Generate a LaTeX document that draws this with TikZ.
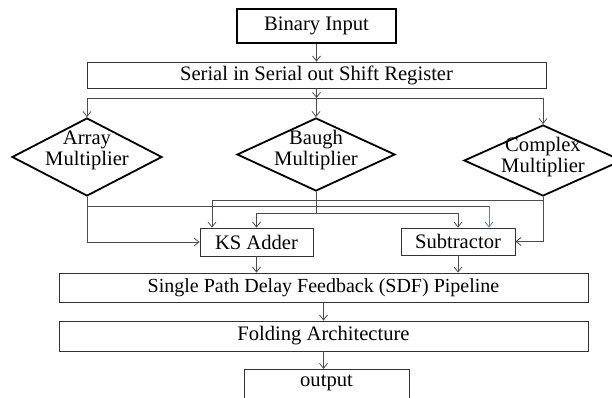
\documentclass[tikz,border=0pt]{standalone}
\usepackage{fontspec}
\setmainfont{Liberation Serif}
\usetikzlibrary{shapes.geometric,arrows.meta}
\definecolor{tealc}{RGB}{70,140,160}
\tikzset{
  box/.style={draw=black!80, line width=0.8pt, rectangle, inner sep=0pt},
  dia/.style={draw=black, line width=1.8pt, diamond, inner sep=0pt},
  ln/.style={draw=black!70, line width=0.8pt},
  con/.style={ln, -{Straight Barb[length=5pt,width=8pt]}}
}
\begin{document}
\begin{tikzpicture}[x=1pt, y=-1pt, font=\fontsize{20.6}{21}\selectfont]
    \useasboundingbox (0,0) rectangle (612,398);

    % 输入与移位寄存器
    \node[box, draw=black, line width=2pt, minimum width=159pt, minimum height=34pt] (bin) at (316.5,26) {Binary Input};
    \node[box, minimum width=459pt, minimum height=26pt] (sr) at (316.5,75) {Serial in Serial out Shift Register};

    % 三个乘法器
    \node[dia, minimum width=150pt, minimum height=78pt] (array) at (87,157) {};
    \node[dia, minimum width=158pt, minimum height=73pt] (baugh) at (316,154.5) {};
    \node[dia, minimum width=158pt, minimum height=71pt] (cplx) at (543,160.5) {};
    \node[align=center] (arrayt) at ([yshift=7pt]array.center) {Array\\Multiplier};
    \node[align=center] (baught) at ([yshift=4.5pt]baugh.center) {Baugh\\Multiplier};
    \node[align=center] (cplxt) at ([yshift=3.5pt]cplx.center) {Complex\\Multiplier};

    % 加法器与减法器
    \node[box, minimum width=113pt, minimum height=28pt] (ks) at (256.5,242) {KS Adder};
    \node[box, minimum width=114pt, minimum height=27pt] (sub) at (458,241.5) {Subtractor};

    % 流水线、折叠与输出
    \node[box, minimum width=529pt, minimum height=29pt, font=\fontsize{20}{21}\selectfont] (sdf) at (323.5,287.5) {Single Path Delay Feedback (SDF) Pipeline};
    \node[box, minimum width=529pt, minimum height=30pt] (fold) at (323.5,336) {Folding Architecture};
    \node[box, minimum width=165pt, minimum height=40pt, anchor=north] (out) at (326.5,369) {};
    \node (outt) at (326.5,383) {output};

    % 上部连线
    \coordinate (busl) at (87,98);
    \coordinate (busr) at (543,98);
    \draw[con] (bin) -- (sr);
    \draw[con] (sr.south) -- (sr.south |- busl);
    \draw[ln] (busl) -- (busr);
    \draw[con] (busl) -- (array.north);
    \draw[con] (baugh.north |- busl) -- (baugh.north);
    \draw[con] (busr) -- (cplx.north);

    % 乘法器到加法器与减法器
    \coordinate (ja) at (87,206);
    \coordinate (ta) at (489,206);
    \coordinate (jc) at (543,200);
    \coordinate (tc) at (212,200);
    \draw[con] (array.south) |- (ks.west);
    \draw[ln] (ja) -- (ta);
    \draw[con, draw=tealc] (ta) -- (ta |- sub.north);
    \draw[ln] (baugh.south) -- ++(0,21) coordinate (jb);
    \draw[con] (jb) -| (ks.north);
    \draw[con] (jb) -| (sub.north);
    \draw[con] (cplx.south) |- (sub.east);
    \draw[ln] (jc) -- (tc);
    \draw[con] (tc) -- (tc |- ks.north);

    % 下部连线
    \draw[con] (ks.south) -- (ks.south |- sdf.north);
    \draw[con] (sub.south) -- (sub.south |- sdf.north);
    \draw[con] (sdf) -- (fold);
    \draw[con] (fold.south) -- (fold.south |- out.north);
\end{tikzpicture}
\end{document}
